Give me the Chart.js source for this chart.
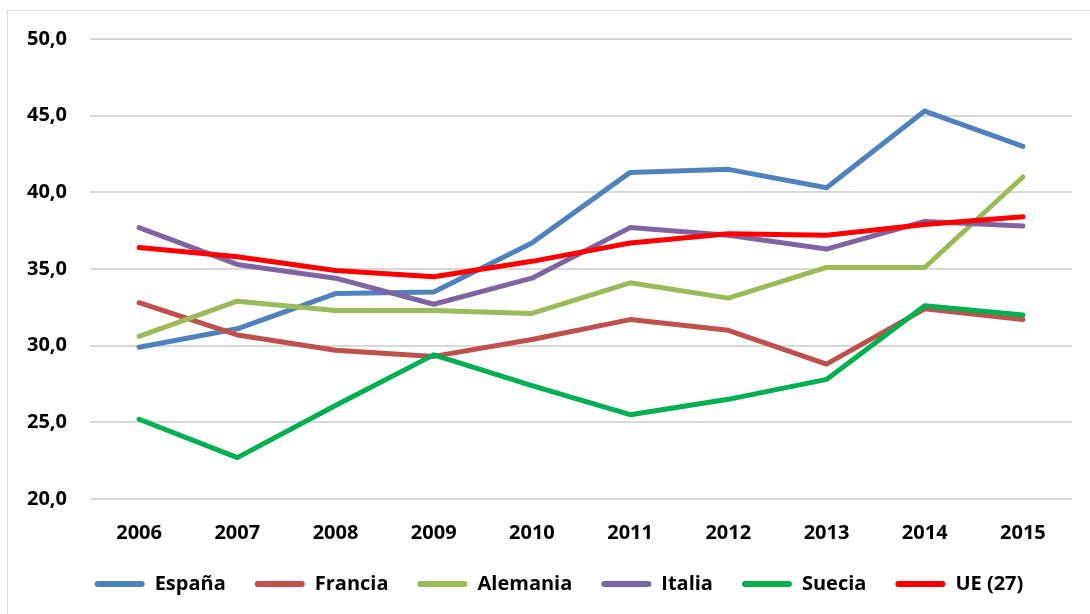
<!DOCTYPE html>
<html>
<head>
<meta charset="utf-8">
<script src="https://cdn.jsdelivr.net/npm/chart.js@4.4.0/dist/chart.umd.min.js"></script>
<style>
  html, body { margin: 0; padding: 0; background: #fff; }
  body { width: 1090px; height: 614px; position: relative; overflow: hidden; }
  .frame { position: absolute; left: 7px; top: 10px; width: 1100px; height: 620px; border: 1px solid #d9d9d9; }
  .wrap { position: absolute; left: 0; top: 0; width: 1090px; height: 614px; }
</style>
</head>
<body>
<div class="frame"></div>
<div class="wrap"><canvas id="grafico"></canvas></div>
<script>
// Años del eje horizontal
const years = ['2006', '2007', '2008', '2009', '2010', '2011', '2012', '2013', '2014', '2015'];

// Valores de cada país
const espana   = [29.9, 31.1, 33.4, 33.5, 36.7, 41.3, 41.5, 40.3, 45.3, 43.0];
const francia  = [32.8, 30.7, 29.7, 29.3, 30.4, 31.7, 31.0, 28.8, 32.4, 31.7];
const alemania = [30.6, 32.9, 32.3, 32.3, 32.1, 34.1, 33.1, 35.1, 35.1, 41.0];
const italia   = [37.7, 35.3, 34.4, 32.7, 34.4, 37.7, 37.2, 36.3, 38.1, 37.8];
const suecia   = [25.2, 22.7, 26.1, 29.4, 27.4, 25.5, 26.5, 27.8, 32.6, 32.0];
const ue27     = [36.4, 35.8, 34.9, 34.5, 35.5, 36.7, 37.3, 37.2, 37.9, 38.4];

// Marcas del eje vertical
const yTicks = [20, 25, 30, 35, 40, 45, 50];

const series = [
    { label: 'España',   data: espana,   color: '#4F81BD' },
    { label: 'Francia',  data: francia,  color: '#C0504D' },
    { label: 'Alemania', data: alemania, color: '#9BBB59' },
    { label: 'Italia',   data: italia,   color: '#8064A2' },
    { label: 'Suecia',   data: suecia,   color: '#00B050' },
    { label: 'UE (27)',  data: ue27,     color: '#FF0000' }
];

const tickFont = { family: '"Open Sans", sans-serif', size: 20, weight: 'bold' };

// Leyenda: altura fija bajo el eje y un poco desplazada a la derecha
const legendTweak = {
    id: 'legendTweak',
    beforeInit(chart) {
        const legend = chart.legend;
        const fit = legend.fit;
        const draw = legend.draw;
        legend.fit = function() {
            fit.call(this);
            this.height = 73;
        };
        legend.draw = function() {
            const c = this.ctx;
            c.save();
            c.translate(23, 4);
            draw.call(this);
            c.restore();
        };
    }
};

document.addEventListener('DOMContentLoaded', function() {
    const ctx = document.getElementById('grafico').getContext('2d');

    const datasets = series.map((s, i) => ({
        label: s.label,
        data: s.data,
        borderColor: s.color,
        backgroundColor: s.color,
        borderWidth: 5,
        pointRadius: 0,
        tension: 0,
        borderCapStyle: 'round',
        borderJoinStyle: 'round',
        order: series.length - i  // el último se dibuja encima, como en Excel
    }));

    new Chart(ctx, {
        type: 'line',
        data: { labels: years, datasets: datasets },
        plugins: [legendTweak],
        options: {
            responsive: true,
            maintainAspectRatio: false,
            animation: false,
            layout: { padding: { left: 0, top: 39, right: 18, bottom: 0 } },
            plugins: {
                tooltip: { enabled: false },
                legend: {
                    position: 'bottom',
                    labels: {
                        color: '#000',
                        boxWidth: 50,
                        boxHeight: 6,
                        padding: 29,
                        useBorderRadius: true,
                        borderRadius: 3,
                        font: { family: '"Open Sans", sans-serif', size: 20, weight: 'bold' },
                        sort: (a, b) => a.datasetIndex - b.datasetIndex,
                        generateLabels: function(chart) {
                            const items = Chart.defaults.plugins.legend.labels.generateLabels(chart);
                            items.forEach(it => { it.lineWidth = 0; it.strokeStyle = 'rgba(0,0,0,0)'; });
                            return items;
                        }
                    }
                }
            },
            scales: {
                x: {
                    offset: true,
                    grid: { display: false },
                    border: { display: false },
                    ticks: { color: '#000', padding: 14, font: tickFont },
                    afterFit: function(scale) { scale.height = 42; }
                },
                y: {
                    min: 20,
                    max: 50,
                    afterBuildTicks: function(scale) {
                        scale.ticks = yTicks.map(v => ({ value: v }));
                    },
                    grid: { color: '#d9d9d9', lineWidth: 2, drawTicks: false },
                    border: { display: false },
                    ticks: {
                        color: '#000',
                        padding: 23,
                        font: tickFont,
                        callback: v => v.toFixed(1).replace('.', ',')
                    },
                    afterFit: function(scale) { scale.width = 90; }
                }
            }
        }
    });
});
</script>
</body>
</html>
